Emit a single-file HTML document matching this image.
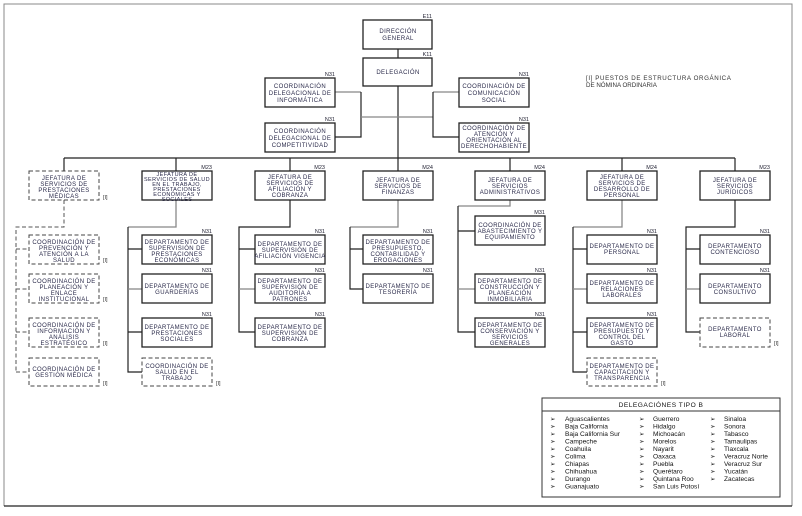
<!DOCTYPE html>
<html><head><meta charset="utf-8"><style>
html,body{margin:0;padding:0;background:#fff;}
svg{display:block;}
text{font-family:"Liberation Sans",sans-serif;}
.b{fill:#fff;stroke:#222;stroke-width:1.3;}
.d{fill:#fff;stroke:#444;stroke-width:1;stroke-dasharray:4 2.5;}
.t{font-size:6px;fill:#2a2a4a;text-anchor:middle;letter-spacing:0.4px;}
.l{font-size:5.5px;fill:#223;text-anchor:end;}
.i{font-size:5.5px;fill:#333;}
.ln{stroke:#222;stroke-width:1.2;fill:none;}
.g{stroke:#888;stroke-width:1.3;fill:none;}
.dl{stroke:#555;stroke-width:1;fill:none;stroke-dasharray:4 2.5;}
.lg{font-size:6.6px;fill:#111;}
</style></head><body>
<svg width="802" height="516" viewBox="0 0 802 516">
<rect x="0" y="0" width="802" height="516" fill="#fff"/>
<!-- frame -->
<path d="M4 506 V4 H792 V506" stroke="#888" stroke-width="1" fill="none"/>
<line x1="4" y1="506" x2="792" y2="506" stroke="#222" stroke-width="1.3"/>

<!-- connectors -->
<path class="ln" d="M398 49 V158"/>
<path class="g" d="M335 92 H361"/>
<path class="ln" d="M361 92 V137 H335"/>
<path class="g" d="M361 117 H433"/>
<path class="g" d="M459 92 H433"/>
<path class="ln" d="M433 92 V137 H459"/>
<path class="ln" d="M64 158 H735"/>
<path class="ln" d="M64 158 V171 M176 158 V171 M290 158 V171 M398 158 V171 M510 158 V171 M622 158 V171 M735 158 V171"/>

<!-- col1 dashed -->
<path class="dl" d="M64 200 V227 H16 V372 M16 249 H29 M16 289 H29 M16 332 H29 M16 372 H29"/>
<!-- col2 -->
<path class="g" d="M176 200 V227 H128"/>
<path class="ln" d="M128 227 V372 H142 M128 249 H142 M128 332 H142"/>
<path class="g" d="M128 289 H142"/>
<!-- col3 -->
<path class="ln" d="M290 200 V227 H239 V332 H255 M239 249 H255"/>
<path class="g" d="M239 289 H255"/>
<!-- col4 -->
<path class="g" d="M398 200 V227 H350"/>
<path class="ln" d="M350 227 V289 H363 M350 249 H363"/>
<!-- col5 -->
<path class="g" d="M510 200 V206 H458"/>
<path class="ln" d="M458 206 V332 H475 M458 231 H475"/>
<path class="g" d="M458 289 H475"/>
<!-- col6 -->
<path class="g" d="M622 200 V227 H573"/>
<path class="ln" d="M573 227 V372 H587 M573 249 H587 M573 332 H587"/>
<path class="g" d="M573 289 H587"/>
<!-- col7 -->
<path class="ln" d="M735 200 V227 H686 V332 H700 M686 249 H700"/>
<path class="g" d="M686 289 H700"/>

<!-- top boxes -->
<rect class="b" x="363" y="20" width="69" height="29"/>
<text class="l" x="432" y="18">E11</text>
<text class="t" x="398" y="33">DIRECCIÓN</text><text class="t" x="398" y="40">GENERAL</text>
<rect class="b" x="363" y="58" width="69" height="28"/>
<text class="l" x="432" y="56">K11</text>
<text class="t" x="398" y="74">DELEGACIÓN</text>

<rect class="b" x="265" y="78" width="70" height="29"/>
<text class="l" x="335" y="76">N31</text>
<text class="t" x="300" y="88">COORDINACIÓN</text><text class="t" x="300" y="95">DELEGACIONAL DE</text><text class="t" x="300" y="102">INFORMÁTICA</text>
<rect class="b" x="265" y="123" width="70" height="29"/>
<text class="l" x="335" y="121">N31</text>
<text class="t" x="300" y="133">COORDINACIÓN</text><text class="t" x="300" y="140">DELEGACIONAL DE</text><text class="t" x="300" y="147">COMPETITIVIDAD</text>

<rect class="b" x="459" y="78" width="70" height="29"/>
<text class="l" x="529" y="76">N31</text>
<text class="t" x="494" y="88">COORDINACIÓN DE</text><text class="t" x="494" y="95">COMUNICACIÓN</text><text class="t" x="494" y="102">SOCIAL</text>
<rect class="b" x="459" y="123" width="70" height="29"/>
<text class="l" x="529" y="121">N31</text>
<text class="t" x="494" y="130">COORDINACIÓN DE</text><text class="t" x="494" y="136">ATENCIÓN Y</text><text class="t" x="494" y="142">ORIENTACIÓN AL</text><text class="t" x="494" y="148">DERECHOHABIENTE</text>

<text class="i" x="586" y="80" style="font-size:6.2px;letter-spacing:0.6px">[I]  PUESTOS  DE  ESTRUCTURA  ORGÁNICA</text>
<text class="i" x="586" y="87" style="font-size:6.2px">DE NÓMINA ORDINARIA</text>

<!-- level 2 -->
<rect class="d" x="29" y="171" width="70" height="29"/>
<text class="t" x="64" y="180">JEFATURA DE</text><text class="t" x="64" y="186">SERVICIOS DE</text><text class="t" x="64" y="192">PRESTACIONES</text><text class="t" x="64" y="198">MÉDICAS</text>
<text class="i" x="103" y="199">[I]</text>

<rect class="b" x="142" y="171" width="70" height="29"/>
<text class="l" x="212" y="169">M23</text>
<text class="t" x="177" y="176" style="font-size:5.5px">JEFATURA DE</text><text class="t" x="177" y="181" style="font-size:5.5px">SERVICIOS DE SALUD</text><text class="t" x="177" y="186" style="font-size:5.5px">EN EL TRABAJO,</text><text class="t" x="177" y="191" style="font-size:5.5px">PRESTACIONES</text><text class="t" x="177" y="196" style="font-size:5.5px">ECONÓMICAS Y</text><text class="t" x="177" y="201" style="font-size:5.5px">SOCIALES</text>

<rect class="b" x="255" y="171" width="70" height="29"/>
<text class="l" x="325" y="169">M23</text>
<text class="t" x="290" y="179">JEFATURA DE</text><text class="t" x="290" y="185">SERVICIOS DE</text><text class="t" x="290" y="191">AFILIACIÓN Y</text><text class="t" x="290" y="197">COBRANZA</text>

<rect class="b" x="363" y="171" width="70" height="29"/>
<text class="l" x="433" y="169">M24</text>
<text class="t" x="398" y="182">JEFATURA DE</text><text class="t" x="398" y="188">SERVICIOS DE</text><text class="t" x="398" y="194">FINANZAS</text>

<rect class="b" x="475" y="171" width="70" height="29"/>
<text class="l" x="545" y="169">M24</text>
<text class="t" x="510" y="182">JEFATURA DE</text><text class="t" x="510" y="188">SERVICIOS</text><text class="t" x="510" y="194">ADMINISTRATIVOS</text>

<rect class="b" x="587" y="171" width="70" height="29"/>
<text class="l" x="657" y="169">M24</text>
<text class="t" x="622" y="179">JEFATURA DE</text><text class="t" x="622" y="185">SERVICIOS DE</text><text class="t" x="622" y="191">DESARROLLO DE</text><text class="t" x="622" y="197">PERSONAL</text>

<rect class="b" x="700" y="171" width="70" height="29"/>
<text class="l" x="770" y="169">M23</text>
<text class="t" x="735" y="182">JEFATURA DE</text><text class="t" x="735" y="188">SERVICIOS</text><text class="t" x="735" y="194">JURÍDICOS</text>

<!-- col1 children -->
<rect class="d" x="29" y="235" width="70" height="29"/>
<text class="t" x="64" y="244">COORDINACIÓN DE</text><text class="t" x="64" y="250">PREVENCIÓN Y</text><text class="t" x="64" y="256">ATENCIÓN A LA</text><text class="t" x="64" y="262">SALUD</text>
<text class="i" x="103" y="262">[I]</text>
<rect class="d" x="29" y="274" width="70" height="29"/>
<text class="t" x="64" y="283">COORDINACIÓN DE</text><text class="t" x="64" y="289">PLANEACIÓN Y</text><text class="t" x="64" y="295">ENLACE</text><text class="t" x="64" y="301">INSTITUCIONAL</text>
<text class="i" x="103" y="301">[I]</text>
<rect class="d" x="29" y="318" width="70" height="29"/>
<text class="t" x="64" y="327">COORDINACIÓN DE</text><text class="t" x="64" y="333">INFORMACIÓN Y</text><text class="t" x="64" y="339">ANÁLISIS</text><text class="t" x="64" y="345">ESTRATÉGICO</text>
<text class="i" x="103" y="345">[I]</text>
<rect class="d" x="29" y="358" width="70" height="28"/>
<text class="t" x="64" y="371">COORDINACIÓN DE</text><text class="t" x="64" y="377">GESTIÓN MÉDICA</text>
<text class="i" x="103" y="385">[I]</text>

<!-- col2 children -->
<rect class="b" x="142" y="235" width="70" height="29"/>
<text class="l" x="212" y="233">N31</text>
<text class="t" x="177" y="244">DEPARTAMENTO DE</text><text class="t" x="177" y="250">SUPERVISIÓN DE</text><text class="t" x="177" y="256">PRESTACIONES</text><text class="t" x="177" y="262">ECONÓMICAS</text>
<rect class="b" x="142" y="274" width="70" height="29"/>
<text class="l" x="212" y="272">N31</text>
<text class="t" x="177" y="288">DEPARTAMENTO DE</text><text class="t" x="177" y="294">GUARDERÍAS</text>
<rect class="b" x="142" y="318" width="70" height="29"/>
<text class="l" x="212" y="316">N31</text>
<text class="t" x="177" y="329">DEPARTAMENTO DE</text><text class="t" x="177" y="335">PRESTACIONES</text><text class="t" x="177" y="341">SOCIALES</text>
<rect class="d" x="142" y="358" width="70" height="28"/>
<text class="t" x="177" y="368">COORDINACIÓN DE</text><text class="t" x="177" y="374">SALUD EN EL</text><text class="t" x="177" y="380">TRABAJO</text>
<text class="i" x="216" y="385">[I]</text>

<!-- col3 children -->
<rect class="b" x="255" y="235" width="70" height="29"/>
<text class="l" x="325" y="233">N31</text>
<text class="t" x="290" y="246">DEPARTAMENTO DE</text><text class="t" x="290" y="252">SUPERVISIÓN DE</text><text class="t" x="290" y="258">AFILIACIÓN VIGENCIA</text>
<rect class="b" x="255" y="274" width="70" height="29"/>
<text class="l" x="325" y="272">N31</text>
<text class="t" x="290" y="283">DEPARTAMENTO DE</text><text class="t" x="290" y="289">SUPERVISIÓN DE</text><text class="t" x="290" y="295">AUDITORÍA A</text><text class="t" x="290" y="301">PATRONES</text>
<rect class="b" x="255" y="318" width="70" height="29"/>
<text class="l" x="325" y="316">N31</text>
<text class="t" x="290" y="329">DEPARTAMENTO DE</text><text class="t" x="290" y="335">SUPERVISIÓN DE</text><text class="t" x="290" y="341">COBRANZA</text>

<!-- col4 children -->
<rect class="b" x="363" y="235" width="70" height="29"/>
<text class="l" x="433" y="233">N31</text>
<text class="t" x="398" y="244">DEPARTAMENTO DE</text><text class="t" x="398" y="250">PRESUPUESTO,</text><text class="t" x="398" y="256">CONTABILIDAD Y</text><text class="t" x="398" y="262">EROGACIONES</text>
<rect class="b" x="363" y="274" width="70" height="29"/>
<text class="l" x="433" y="272">N31</text>
<text class="t" x="398" y="288">DEPARTAMENTO DE</text><text class="t" x="398" y="294">TESORERÍA</text>

<!-- col5 children -->
<rect class="b" x="475" y="216" width="70" height="29"/>
<text class="l" x="545" y="214">M31</text>
<text class="t" x="510" y="227">COORDINACIÓN DE</text><text class="t" x="510" y="233">ABASTECIMIENTO Y</text><text class="t" x="510" y="239">EQUIPAMIENTO</text>
<rect class="b" x="475" y="274" width="70" height="29"/>
<text class="l" x="545" y="272">N31</text>
<text class="t" x="510" y="283">DEPARTAMENTO DE</text><text class="t" x="510" y="289">CONSTRUCCIÓN Y</text><text class="t" x="510" y="295">PLANEACIÓN</text><text class="t" x="510" y="301">INMOBILIARIA</text>
<rect class="b" x="475" y="318" width="70" height="29"/>
<text class="l" x="545" y="316">N31</text>
<text class="t" x="510" y="327">DEPARTAMENTO DE</text><text class="t" x="510" y="333">CONSERVACIÓN Y</text><text class="t" x="510" y="339">SERVICIOS</text><text class="t" x="510" y="345">GENERALES</text>

<!-- col6 children -->
<rect class="b" x="587" y="235" width="70" height="29"/>
<text class="l" x="657" y="233">N31</text>
<text class="t" x="622" y="248">DEPARTAMENTO DE</text><text class="t" x="622" y="254">PERSONAL</text>
<rect class="b" x="587" y="274" width="70" height="29"/>
<text class="l" x="657" y="272">N31</text>
<text class="t" x="622" y="285">DEPARTAMENTO DE</text><text class="t" x="622" y="291">RELACIONES</text><text class="t" x="622" y="297">LABORALES</text>
<rect class="b" x="587" y="318" width="70" height="29"/>
<text class="l" x="657" y="316">N31</text>
<text class="t" x="622" y="327">DEPARTAMENTO DE</text><text class="t" x="622" y="333">PRESUPUESTO Y</text><text class="t" x="622" y="339">CONTROL DEL</text><text class="t" x="622" y="345">GASTO</text>
<rect class="d" x="587" y="358" width="70" height="28"/>
<text class="t" x="622" y="368">DEPARTAMENTO DE</text><text class="t" x="622" y="374">CAPACITACIÓN Y</text><text class="t" x="622" y="380">TRANSPARENCIA</text>
<text class="i" x="661" y="385">[I]</text>

<!-- col7 children -->
<rect class="b" x="700" y="235" width="70" height="29"/>
<text class="l" x="770" y="233">N31</text>
<text class="t" x="735" y="248">DEPARTAMENTO</text><text class="t" x="735" y="254">CONTENCIOSO</text>
<rect class="b" x="700" y="274" width="70" height="29"/>
<text class="l" x="770" y="272">N31</text>
<text class="t" x="735" y="288">DEPARTAMENTO</text><text class="t" x="735" y="294">CONSULTIVO</text>
<rect class="d" x="700" y="318" width="70" height="29"/>
<text class="t" x="735" y="331">DEPARTAMENTO</text><text class="t" x="735" y="337">LABORAL</text>
<text class="i" x="774" y="345">[I]</text>

<!-- legend -->
<rect x="542" y="398" width="238" height="99" fill="#fff" stroke="#333" stroke-width="1"/>
<line x1="542" y1="411" x2="780" y2="411" stroke="#333" stroke-width="1"/>
<text x="661" y="407" text-anchor="middle" style="font-size:6.6px;letter-spacing:0.5px;fill:#111">DELEGACIÓNES TIPO B</text>
<g class="lg">
<text x="550" y="421">➢</text><text x="565" y="421">Aguascalientes</text>
<text x="550" y="428.5">➢</text><text x="565" y="428.5">Baja California</text>
<text x="550" y="436">➢</text><text x="565" y="436">Baja California Sur</text>
<text x="550" y="443.5">➢</text><text x="565" y="443.5">Campeche</text>
<text x="550" y="451">➢</text><text x="565" y="451">Coahuila</text>
<text x="550" y="458.5">➢</text><text x="565" y="458.5">Colima</text>
<text x="550" y="466">➢</text><text x="565" y="466">Chiapas</text>
<text x="550" y="473.5">➢</text><text x="565" y="473.5">Chihuahua</text>
<text x="550" y="481">➢</text><text x="565" y="481">Durango</text>
<text x="550" y="488.5">➢</text><text x="565" y="488.5">Guanajuato</text>
<text x="639" y="421">➢</text><text x="653" y="421">Guerrero</text>
<text x="639" y="428.5">➢</text><text x="653" y="428.5">Hidalgo</text>
<text x="639" y="436">➢</text><text x="653" y="436">Michoacán</text>
<text x="639" y="443.5">➢</text><text x="653" y="443.5">Morelos</text>
<text x="639" y="451">➢</text><text x="653" y="451">Nayarit</text>
<text x="639" y="458.5">➢</text><text x="653" y="458.5">Oaxaca</text>
<text x="639" y="466">➢</text><text x="653" y="466">Puebla</text>
<text x="639" y="473.5">➢</text><text x="653" y="473.5">Querétaro</text>
<text x="639" y="481">➢</text><text x="653" y="481">Quintana Roo</text>
<text x="639" y="488.5">➢</text><text x="653" y="488.5">San Luis Potosí</text>
<text x="710" y="421">➢</text><text x="724" y="421">Sinaloa</text>
<text x="710" y="428.5">➢</text><text x="724" y="428.5">Sonora</text>
<text x="710" y="436">➢</text><text x="724" y="436">Tabasco</text>
<text x="710" y="443.5">➢</text><text x="724" y="443.5">Tamaulipas</text>
<text x="710" y="451">➢</text><text x="724" y="451">Tlaxcala</text>
<text x="710" y="458.5">➢</text><text x="724" y="458.5">Veracruz Norte</text>
<text x="710" y="466">➢</text><text x="724" y="466">Veracruz Sur</text>
<text x="710" y="473.5">➢</text><text x="724" y="473.5">Yucatán</text>
<text x="710" y="481">➢</text><text x="724" y="481">Zacatecas</text>
</g>
</svg>
</body></html>
